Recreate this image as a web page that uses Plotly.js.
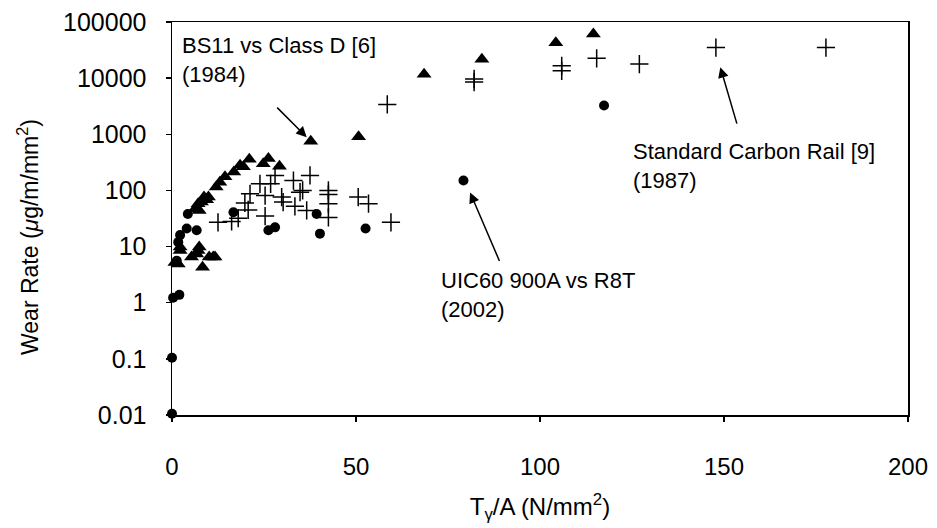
<!DOCTYPE html>
<html>
<head>
<meta charset="utf-8">
<script src="https://cdn.plot.ly/plotly-3.0.1.min.js"></script>
<style>html,body{margin:0;padding:0;background:#fff;}#chart{width:937px;height:528px;}</style>
</head>
<body>
<div id="chart"></div>
<script>
// BS11 vs Class D [6] (1984) - filled triangles
const bs11X = [0.8, 1.7, 2.2, 2.2, 5.3, 6.7, 7.1, 7.4, 8.3, 10.1, 11.2, 11.7, 6.3, 7.1, 7.4, 8.0, 8.7, 9.4, 9.9, 12.0, 13.0, 14.4, 16.8, 18.5, 19.4, 21.0, 24.8, 26.2, 29.2, 37.7, 50.7, 68.5, 84.2, 104.3, 114.5];
const bs11Y = [5.2, 4.9, 9.8, 8.5, 6.5, 7.4, 8.5, 9.8, 4.3, 6.5, 6.5, 6.5, 47, 58, 44, 62, 76, 68, 76, 115, 140, 175, 212, 280, 263, 360, 300, 370, 270, 750, 900, 11700, 21800, 42500, 61000];

// UIC60 900A vs R8T (2002) - filled circles
const uicX = [0, 0, 0.3, 2.0, 1.3, 1.7, 2.2, 4.0, 4.3, 6.7, 16.7, 26.2, 28.0, 39.3, 40.2, 52.6, 79.2, 117.4];
const uicY = [0.0105, 0.105, 1.23, 1.38, 5.6, 12, 16, 21, 38, 19.5, 41, 19.5, 22, 38, 17, 21, 150, 3250];

// Standard Carbon Rail [9] (1987) - crosses
const scrX = [12.5, 16.2, 18.0, 19.8, 20.7, 21.2, 23.9, 25.3, 25.3, 26.8, 28.0, 29.8, 30.2, 33.0, 33.4, 34.8, 35.5, 36.6, 37.5, 42.5, 42.5, 42.5, 42.5, 50.6, 53.4, 59.5, 58.5, 82.1, 82.1, 105.9, 105.9, 115.4, 127.0, 147.8, 177.7];
const scrY = [27, 28, 32, 60, 45, 87, 131, 81, 35, 131, 185, 76, 62, 150, 52, 93, 100, 44, 185, 100, 85, 58, 33, 76, 58, 27, 3400, 8500, 9700, 13500, 16600, 22500, 17800, 35000, 35000];

const xTickVals = [0, 50, 100, 150, 200];
const yTickVals = [0.01, 0.1, 1, 10, 100, 1000, 10000, 100000];
const yTickText = ["0.01", "0.1", "1", "10", "100", "1000", "10000", "100000"];

const FONT = "Arial, 'Liberation Sans', sans-serif";

const traces = [
  {x: bs11X, y: bs11Y, type: 'scatter', mode: 'markers', name: 'BS11 vs Class D [6]', cliponaxis: false,
   marker: {symbol: 'triangle-up', size: 13, color: '#000'}},
  {x: uicX, y: uicY, type: 'scatter', mode: 'markers', name: 'UIC60 900A vs R8T', cliponaxis: false,
   marker: {symbol: 'circle', size: 10, color: '#000'}},
  {x: scrX, y: scrY, type: 'scatter', mode: 'markers', name: 'Standard Carbon Rail [9]', cliponaxis: false,
   marker: {symbol: 'cross-thin-open', size: 13, color: '#000', line: {color: '#000', width: 1.5}}}
];

// paper helpers (plot area: x 172..908 px, y 22..415 px)
const px = v => (v - 172) / 736;
const py = v => (415 - v) / 393;

const layout = {
  width: 937, height: 528,
  margin: {l: 172, r: 29, t: 22, b: 113, pad: 0},
  paper_bgcolor: '#fff', plot_bgcolor: '#fff',
  showlegend: false,
  font: {family: FONT, color: '#000'},
  xaxis: {
    range: [0, 200], tickvals: xTickVals, ticks: 'outside', ticklen: 5, tickwidth: 1.5, tickcolor: '#000',
    showline: true, mirror: true, linecolor: '#000', linewidth: 1.5,
    showgrid: false, zeroline: false, tickfont: {size: 24, family: FONT},
    ticklabelstandoff: 25,
    title: {text: 'T<sub>γ</sub>/A (N/mm<sup>2</sup>)', font: {size: 24, family: FONT}, standoff: 19}
  },
  yaxis: {
    type: 'log', range: [-2, 5], tickvals: yTickVals, ticktext: yTickText,
    ticks: 'outside', ticklen: 5, tickwidth: 1.5, tickcolor: '#000',
    showline: true, mirror: true, linecolor: '#000', linewidth: 1.5,
    showgrid: false, zeroline: false, tickfont: {size: 25, family: FONT},
    ticklabelstandoff: 14
  },
  annotations: [
    {xref: 'paper', yref: 'paper', x: px(28), y: py(237), text: 'Wear Rate (<i>μ</i>g/m/mm<sup>2</sup>)',
     textangle: -90, showarrow: false, xanchor: 'center', yanchor: 'middle', font: {size: 23, family: FONT}},
    {xref: 'paper', yref: 'paper', x: px(180), y: py(60), text: 'BS11 vs Class D [6]<br>(1984)', align: 'left',
     showarrow: false, xanchor: 'left', yanchor: 'middle', font: {size: 22, family: FONT}},
    {xref: 'paper', yref: 'paper', x: px(439), y: py(295), text: 'UIC60 900A vs R8T<br>(2002)', align: 'left',
     showarrow: false, xanchor: 'left', yanchor: 'middle', font: {size: 22, family: FONT}},
    {xref: 'paper', yref: 'paper', x: px(631), y: py(166), text: 'Standard Carbon Rail [9]<br>(1987)', align: 'left',
     showarrow: false, xanchor: 'left', yanchor: 'middle', font: {size: 22, family: FONT}},
    {x: 36.6, y: Math.log10(890), xref: 'x', yref: 'y', text: '', showarrow: true, arrowhead: 2, arrowsize: 1.4,
     arrowwidth: 1.5, arrowcolor: '#000', ax: -31, ay: -31, standoff: 0},
    {x: 81.0, y: Math.log10(92), xref: 'x', yref: 'y', text: '', showarrow: true, arrowhead: 2, arrowsize: 1.4,
     arrowwidth: 1.5, arrowcolor: '#000', ax: 30, ay: 70, standoff: 0},
    {x: 149.0, y: Math.log10(15700), xref: 'x', yref: 'y', text: '', showarrow: true, arrowhead: 2, arrowsize: 1.4,
     arrowwidth: 1.5, arrowcolor: '#000', ax: 17, ay: 58, standoff: 0}
  ]
};

Plotly.newPlot('chart', traces, layout, {displayModeBar: false, staticPlot: true});
</script>
</body>
</html>
